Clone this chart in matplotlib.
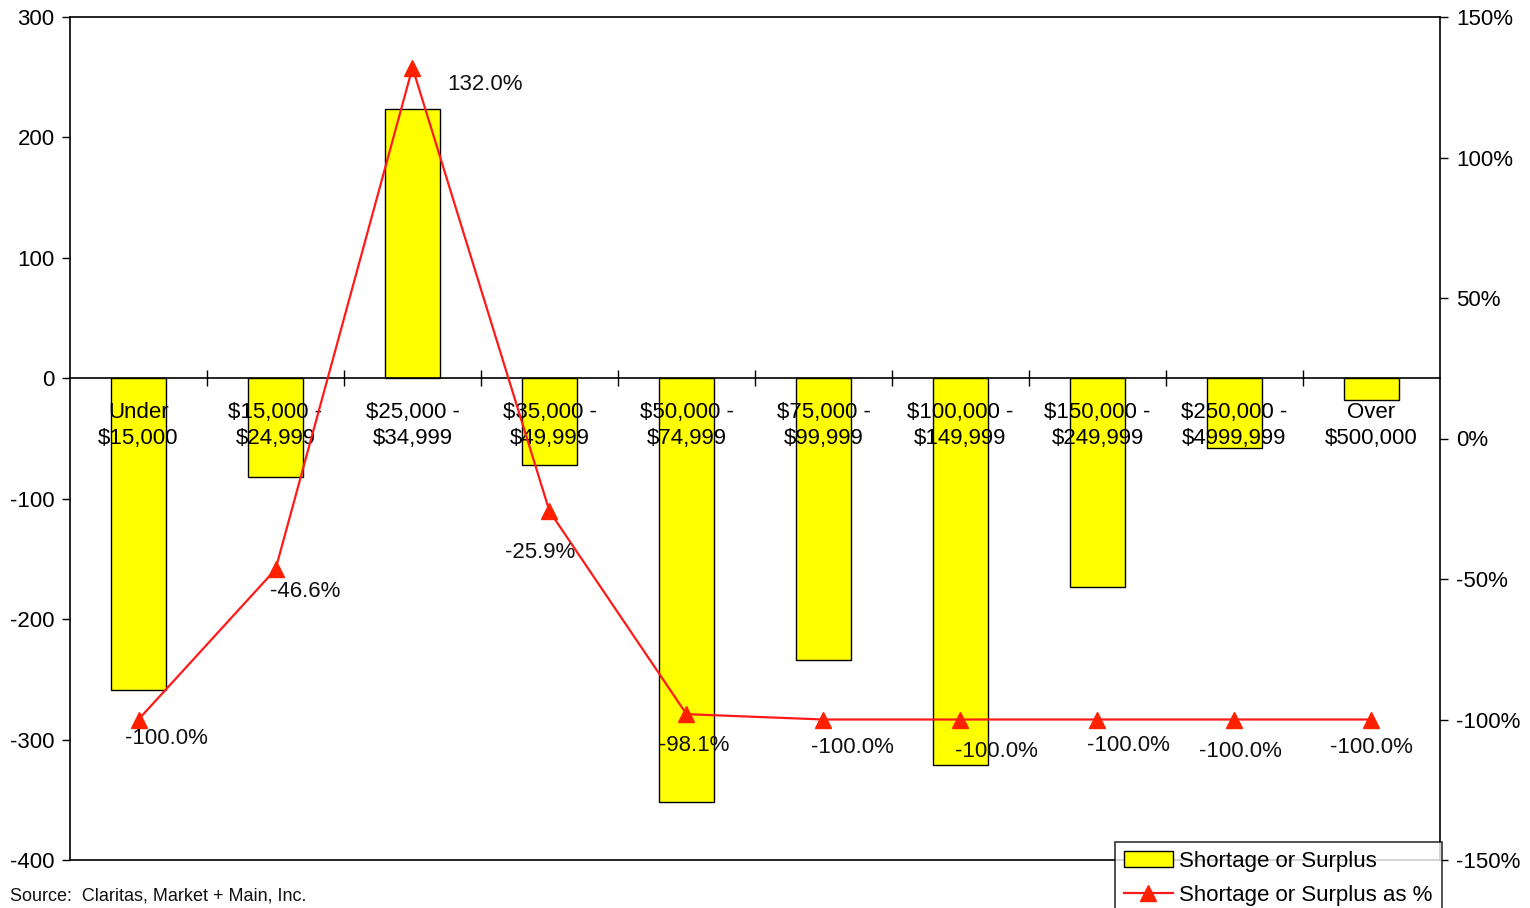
import numpy as np
import matplotlib
matplotlib.use("Agg")
import matplotlib.pyplot as plt
from matplotlib.ticker import FuncFormatter

plt.rcParams['font.family'] = ['Liberation Sans', 'DejaVu Sans']
plt.rcParams['axes.unicode_minus'] = False

categories = ["Under\n$15,000", "$15,000 -\n$24,999", "$25,000 -\n$34,999",
              "$35,000 -\n$49,999", "$50,000 -\n$74,999", "$75,000 -\n$99,999",
              "$100,000 -\n$149,999", "$150,000 -\n$249,999", "$250,000 -\n$4999,999",
              "Over\n$500,000"]
shortage = [-259, -82, 224, -72, -352, -234, -321, -173, -58, -18]
shortage_pct = [-100.0, -46.6, 132.0, -25.9, -98.1, -100.0, -100.0, -100.0, -100.0, -100.0]

# label offsets (pixels) from each marker, as placed in the source chart
label_offsets = [(28, -19), (30, -22), (73, -17), (-9, -41), (8, -31),
                 (29, -28), (36, -32), (31, -26), (6, -32), (0, -28)]

fs = 16
x = np.arange(len(categories))

fig = plt.figure(figsize=(15.3, 9.08), dpi=100)
ax = fig.add_axes([70/1530, 48/908, 1370/1530, 843/908])
ax.set_axisbelow(False)

bars = ax.bar(x, shortage, width=0.4, color="#ffff00", edgecolor="black",
              linewidth=1.0, label="Shortage or Surplus", zorder=2)
ax.set_xlim(-0.5, len(categories) - 0.5)
ax.set_ylim(-400, 300)
ax.set_yticks(np.arange(-400, 301, 100))
ax.tick_params(axis='y', labelsize=fs, length=6, width=1, direction='out', pad=5)

# category axis sits on the zero line
ax.spines['bottom'].set_position(('data', 0))
ax.set_xticks(x)
ax.set_xticklabels(categories, fontsize=fs, linespacing=1.35)
ax.set_xticks(x[:-1] + 0.5, minor=True)
ax.tick_params(axis='x', which='major', length=0, pad=17)
ax.tick_params(axis='x', which='minor', length=12, width=1, direction='inout')
ax.plot([0, 1], [0, 0], transform=ax.transAxes, color="black", lw=1.2, clip_on=False)
for s in ax.spines.values():
    s.set_linewidth(1.2)
ax.spines['right'].set_visible(False)

ax2 = ax.twinx()
line, = ax2.plot(x, shortage_pct, color="#ff1a1a", lw=1.6, marker="^",
                 markersize=12, markerfacecolor="#ff2000", markeredgecolor="#ff2000",
                 label="Shortage or Surplus as %", zorder=3)
ax2.set_ylim(-150, 150)
ax2.set_yticks(np.arange(-150, 151, 50))
ax2.yaxis.set_major_formatter(FuncFormatter(lambda v, p: "%d%%" % v))
ax2.tick_params(axis='y', labelsize=fs, length=6, width=1, direction='out', pad=5.5)
for side in ['left', 'top', 'bottom']:
    ax2.spines[side].set_visible(False)
ax2.spines['right'].set_linewidth(1.2)

for xi, v, off in zip(x, shortage_pct, label_offsets):
    ax2.annotate("%.1f%%" % v, (xi, v), xytext=off, textcoords='offset pixels',
                 ha='center', va='center', fontsize=fs, color="#111111")

fig.text(10/1530, 1 - 896/908, "Source:  Claritas, Market + Main, Inc.",
         fontsize=13, va='center', ha='left', color="#111111")

leg = fig.legend(handles=[bars, line], loc='upper left',
                 bbox_to_anchor=(1115/1530, 1 - 842/908), fontsize=fs,
                 frameon=True, fancybox=False, borderpad=0.4, labelspacing=0.6,
                 handlelength=2.2, handletextpad=0.3, borderaxespad=0)
leg.get_frame().set_edgecolor("black")
leg.get_frame().set_linewidth(1.2)

fig.savefig("out.png", dpi=100)
